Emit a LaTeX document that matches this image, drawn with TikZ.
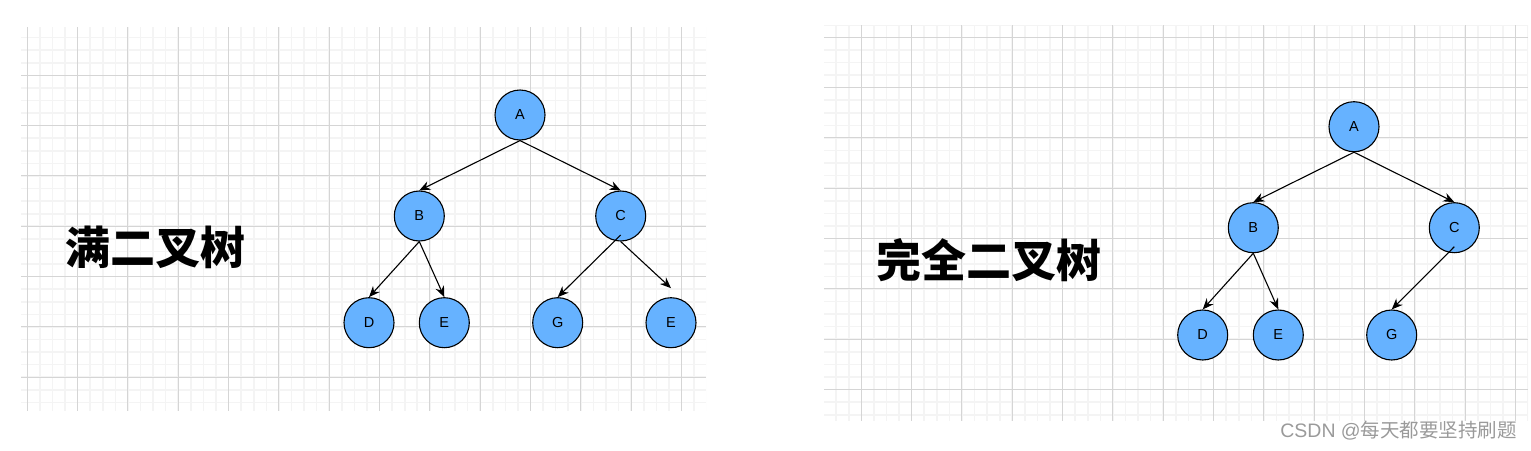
\documentclass[tikz,border=0pt]{standalone}
\usepackage{fontspec}
\setmainfont{Liberation Sans}
\newfontfamily\cjk{Noto Sans CJK SC}
\usepackage{tikz}
\usetikzlibrary{arrows.meta}
\definecolor{nodeblue}{HTML}{66B2FF}
\definecolor{majgrid}{HTML}{D5D5D5}
\definecolor{mingrid}{HTML}{F4F4F4}
\definecolor{markgray}{HTML}{9A9A9A}
\tikzset{
  treenode/.style={circle,draw=black,fill=nodeblue,line width=1.1pt,minimum size=50pt,inner sep=0pt,font=\fontsize{14.5}{16}\selectfont},
  treeedge/.style={-{Stealth[length=11pt,width=9pt]},line width=1.1pt},
  minorline/.style={mingrid,line width=1.6pt},
  majorline/.style={majgrid,line width=1pt},
  titletext/.style={font=\cjk\bfseries\fontsize{45}{50}\selectfont},
  marktext/.style={markgray,font=\fontsize{19.5}{21}\selectfont},
}
% one grid sheet: left, top, right, bottom, x and y of a major line
\newcommand{\gridpanel}[6]{%
  \begin{scope}
    \clip (#1,#2) rectangle (#3,#4);
    \foreach \k in {-1,...,60} \draw[minorline] ({#5+12.58*\k},#2) -- ({#5+12.58*\k},#4);
    \foreach \k in {-1,...,35} \draw[minorline] (#1,{#6+12.58*\k}) -- (#3,{#6+12.58*\k});
    \foreach \k in {-1,...,15} \draw[majorline] ({#5+50.32*\k},#2) -- ({#5+50.32*\k},#4);
    \foreach \k in {-1,...,9} \draw[majorline] (#1,{#6+50.32*\k}) -- (#3,{#6+50.32*\k});
  \end{scope}}

\begin{document}
\begin{tikzpicture}[x=1pt,y=-1pt]
  \useasboundingbox (0,0) rectangle (1531,450);
  \gridpanel{21}{27}{706}{410.7}{27.3}{25}
  \gridpanel{824}{25}{1528}{421}{811}{37.3}

  % full binary tree
  \node[titletext] (lTitle) at (155,247) {满二叉树};
  \node[treenode] (lA) at (520,115) {A};
  \node[treenode] (lB) at (419.3,216) {B};
  \node[treenode] (lC) at (620.7,216) {\raisebox{-3pt}{C}};
  \node[treenode] (lD) at (369,322.7) {D};
  \node[treenode] (lE) at (444.3,322.7) {E};
  \node[treenode] (lG) at (557.7,322.7) {G};
  \node[treenode] (lE2) at (671,322.7) {E};
  \draw[treeedge] (lA.south) -- (lB.north);
  \draw[treeedge] (lA.south) -- (lC.north);
  \draw[treeedge] (lB.south) -- (lD.north);
  \draw[treeedge] (lB.south) -- (lE.north);
  \draw[treeedge] ([yshift=-19pt]lC.center) -- (lG.north);
  \draw[treeedge] (lC.south) -- ([yshift=9pt]lE2.north);

  % complete binary tree
  \node[titletext] (rTitle) at (988.5,260) {完全二叉树};
  \node[treenode] (rA) at (1354,126.7) {A};
  \node[treenode] (rB) at (1253.3,227.7) {B};
  \node[treenode] (rC) at (1454.3,227.7) {\raisebox{-3pt}{C}};
  \node[treenode] (rD) at (1202.7,335) {D};
  \node[treenode] (rE) at (1278.3,335) {E};
  \node[treenode] (rG) at (1391.7,335) {G};
  \draw[treeedge] (rA.south) -- (rB.north);
  \draw[treeedge] (rA.south) -- (rC.north);
  \draw[treeedge] (rB.south) -- (rD.north);
  \draw[treeedge] (rB.south) -- (rE.north);
  \draw[treeedge] ([yshift=-19pt]rC.center) -- (rG.north);

  \node[marktext,anchor=east,inner sep=0pt] (mark) at (1517,431) {CSDN @{\cjk 每天都要坚持刷题}};
\end{tikzpicture}
\end{document}
